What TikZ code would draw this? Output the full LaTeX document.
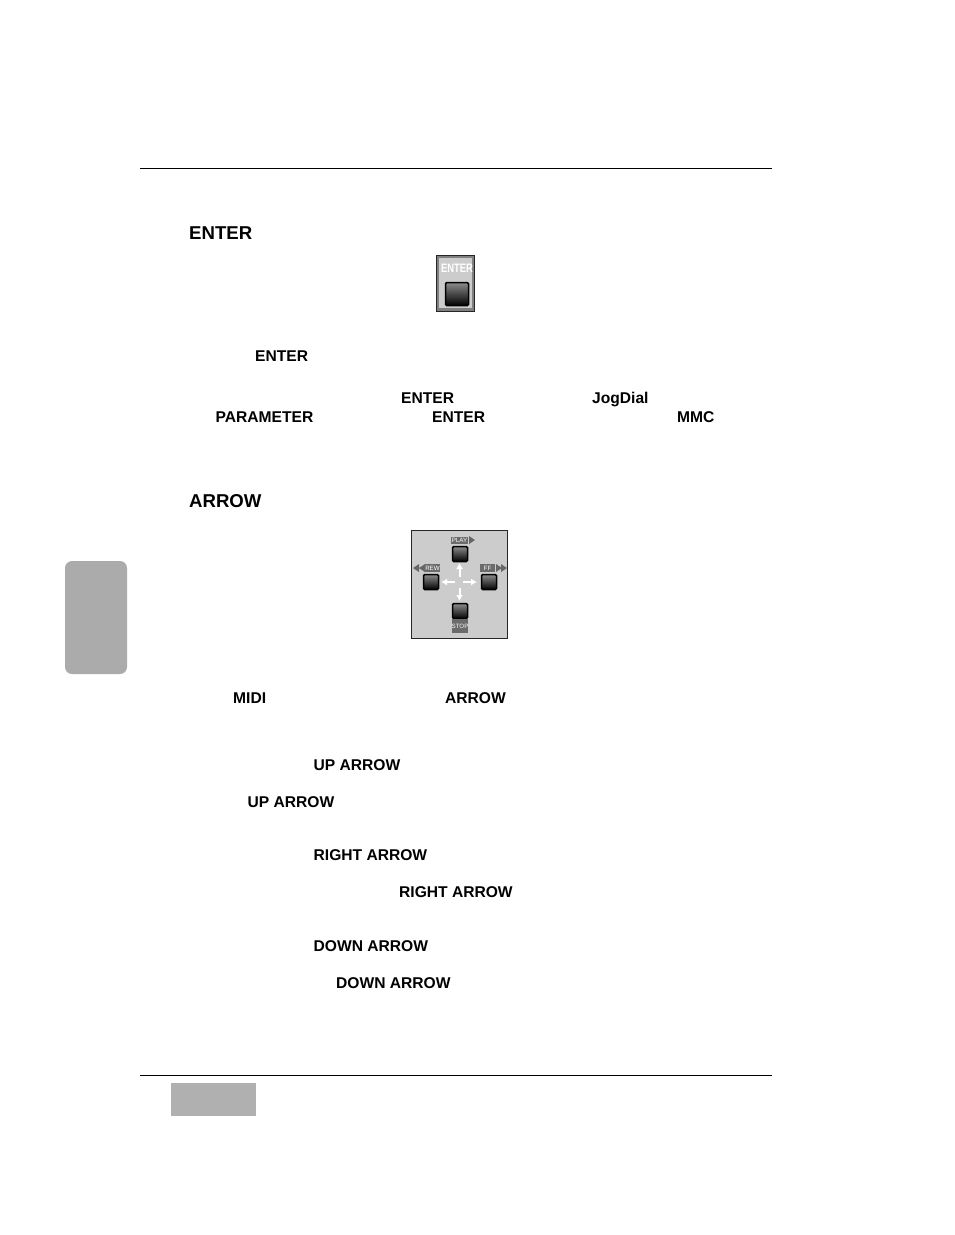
\documentclass[tikz,border=0pt]{standalone}
\usepackage{fontspec}
\usetikzlibrary{arrows.meta}
\setmainfont{Liberation Sans}
\begin{document}
\begin{tikzpicture}[x=1pt,y=-1pt,
  head/.style={anchor=base west,inner sep=0pt,font=\fontsize{18.6}{20}\selectfont\bfseries},
  body/.style={anchor=base west,inner sep=0pt,font=\fontsize{15.6}{18}\selectfont\bfseries},
  rulel/.style={line width=1pt,black},
  btn/.style={draw=black,line width=1.5pt,rounded corners=1.2pt,top color=black!45,bottom color=black,inner sep=0pt},
  tag/.style={fill=black!58,text=white,inner sep=0pt,font=\fontsize{6.2}{8}\selectfont},
  warrow/.style={white,line width=2pt,-{Latex[length=6pt,width=7pt]}}]
\useasboundingbox (0,0) rectangle (954,1235);
\fill[white] (0,0) rectangle (954,1235);
\coordinate (t1) at (140,168.5); \coordinate (t2) at (772,168.5);
\coordinate (b1) at (140,1075.5); \coordinate (b2) at (772,1075.5);
\draw[rulel] (t1) -- (t2);
\draw[rulel] (b1) -- (b2);
\fill[black!33] (65,561) [rounded corners=7pt] rectangle (127,674);
\fill[black!31] (171,1083) rectangle (256,1116);
\node[head] (h1) at (189,239) {ENTER};
\node[head] (h2) at (189,507) {ARROW};
\node[body] (e1) at (255,361) {ENTER};
\node[body] (e2) at (401,403) {ENTER};
\node[body] (j1) at (592,403) {JogDial};
\node[body] (p1) at (215.5,422) {PARAMETER};
\node[body] (e3) at (432,422) {ENTER};
\node[body] (m1) at (677,422) {MMC};
\node[body] (m2) at (233,703) {MIDI};
\node[body] (a1) at (445,703) {ARROW};
\node[body] (u1) at (313.5,770) {UP ARROW};
\node[body] (u2) at (247.5,807) {UP ARROW};
\node[body] (r1) at (313.5,860) {RIGHT ARROW};
\node[body] (r2) at (399,897) {RIGHT ARROW};
\node[body] (d1) at (313.5,951) {DOWN ARROW};
\node[body] (d2) at (336,988) {DOWN ARROW};
% ENTER key
\draw[black!85,line width=1pt,fill=black!50] (436.5,255.5) rectangle (474.5,311.5);
\fill[black!20] (439,258) rectangle (472,308);
\node[inner sep=0pt,text=white,yscale=1.3,font=\fontsize{9.4}{10}\selectfont\bfseries] (ek) at (457,268.5) {ENTER};
\node[btn,minimum width=23pt,minimum height=23pt] (eb) at (457,294) {};
% ARROW panel
\draw[black!85,line width=.8pt,fill=black!20] (411.5,530.5) rectangle (507.5,638.5);
\node[btn,minimum width=15pt,minimum height=15pt] (bu) at (460,554) {};
\node[btn,minimum width=15pt,minimum height=15pt] (bl) at (431,582) {};
\node[btn,minimum width=15pt,minimum height=15pt] (br) at (489,582) {};
\node[btn,minimum width=15pt,minimum height=15pt] (bd) at (460,611) {};
\node[tag,minimum width=17pt,minimum height=7pt] (tp) at (459.5,540) {PLAY};
\node[tag,minimum width=15pt,minimum height=8pt] (tr) at (432.5,568) {REW};
\node[tag,minimum width=15pt,minimum height=8pt] (tf) at (487.5,568) {FF};
\node[tag,minimum width=16pt,minimum height=14pt] (ts) at (460,626) {STOP};
\coordinate (au1) at (459.5,577); \coordinate (au2) at (459.5,563);
\coordinate (ad1) at (459.5,588); \coordinate (ad2) at (459.5,601);
\coordinate (al1) at (455,582); \coordinate (al2) at (441,582);
\coordinate (ar1) at (463,582); \coordinate (ar2) at (477,582);
\draw[warrow] (au1) -- (au2);
\draw[warrow] (ad1) -- (ad2);
\draw[warrow] (al1) -- (al2);
\draw[warrow] (ar1) -- (ar2);
\fill[black!60] (469,536) -- (475,540) -- (469,544) -- cycle;
\fill[black!60] (419,564) -- (413,568) -- (419,572) -- cycle (425,564) -- (419,568) -- (425,572) -- cycle;
\fill[black!60] (496,564) -- (502,568) -- (496,572) -- cycle (501,564) -- (507,568) -- (501,572) -- cycle;
\end{tikzpicture}
\end{document}
